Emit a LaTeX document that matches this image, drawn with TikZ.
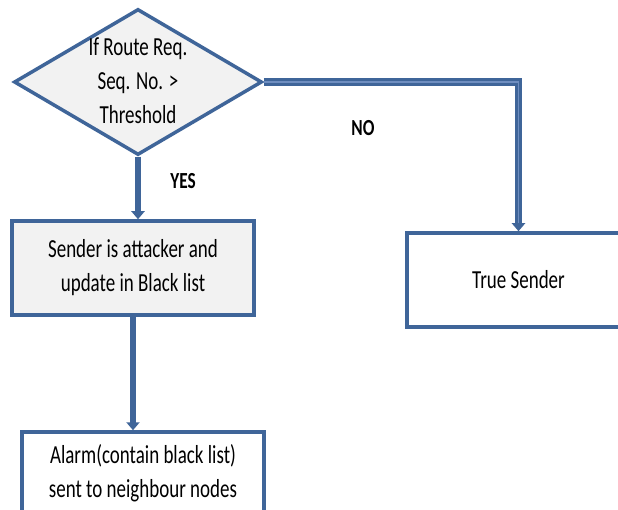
\documentclass[tikz,border=0pt]{standalone}
\usepackage{fontspec}
\usepackage{graphicx}
\setmainfont{Carlito}
\usetikzlibrary{shapes.geometric,arrows.meta}
\definecolor{edgeblue}{HTML}{3F6599}
\definecolor{lightblue}{HTML}{6F8EC0}
\definecolor{boxgrey}{HTML}{F2F2F2}
\newcommand{\sqz}[1]{\scalebox{0.73}[1]{\begin{tabular}{@{}c@{}}#1\end{tabular}}}
\begin{document}
\begin{tikzpicture}[x=1pt,y=-1pt,
  box/.style={draw=edgeblue, line width=3.5pt, rectangle, inner sep=0pt},
  txt/.style={font=\fontsize{26}{34}\selectfont, inner sep=0pt},
  lbl/.style={font=\fontsize{23}{28}\selectfont\bfseries, inner sep=0pt},
  conn/.style={draw=edgeblue, line width=6pt, -{Triangle[width=13pt,length=8pt]}},
  connd/.style={draw=edgeblue, line width=3pt, double=lightblue, double distance=1.3pt, -{Triangle[width=13pt,length=8pt]}}
]
\useasboundingbox (0,0) rectangle (618,510);
\clip (0,0) rectangle (618,510);
\fill[white] (0,0) rectangle (618,510);
% shapes
\node[diamond, draw=edgeblue, fill=boxgrey, line width=3.5pt, inner sep=0pt,
      minimum width=248pt, minimum height=146pt] (dec) at (138,82) {};
\node[box, fill=boxgrey, minimum width=242pt, minimum height=94pt] (send) at (133,268) {};
\node[box, fill=white, minimum width=242pt, minimum height=100pt] (alarm) at (143,482) {};
\node[box, fill=white, minimum width=223pt, minimum height=94pt] (true) at (518.5,280) {};
% texts
\node[txt] (dectxt) at (138,83) {\sqz{If Route Req.\\Seq. No. >\\Threshold}};
\node[txt] (sendtxt) at (133,268) {\sqz{Sender is attacker and\\update in Black list}};
\node[txt] (alarmtxt) at (143,474) {\sqz{Alarm(contain black list)\\sent to neighbour nodes}};
\node[txt] (truetxt) at (518.5,282) {\sqz{True Sender}};
\node[lbl] (yes) at (183,181) {\scalebox{0.75}[1]{YES}};
\node[lbl] (no) at (363,128) {\scalebox{0.75}[1]{NO}};
% connectors
\draw[conn] (dec.south) -- (dec.south |- send.north);
\draw[conn] (send.south) -- (send.south |- alarm.north);
\draw[connd] (dec.east) -| (true.north);
\end{tikzpicture}
\end{document}
